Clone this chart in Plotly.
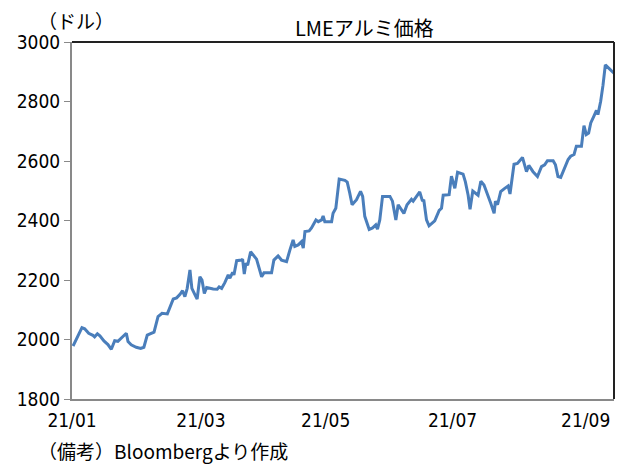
import pandas as pd
import plotly.graph_objects as go

# Days after 2021-01-04 and LME aluminium price (USD)
day_offsets = [0.5, 4.7, 6.0, 7.9, 9.9, 10.7, 12.0, 13.2, 15.1, 17.0, 18.6, 20.2, 21.7, 23.6, 25.7,
               26.5, 28.0, 30.4, 32.5, 34.0, 35.6, 38.8, 40.7, 42.6, 45.1, 47.9, 49.5, 51.1, 52.3,
               53.4, 54.5, 55.8, 56.7, 58.6, 59.2, 60.5, 61.5, 62.6, 63.7, 66.8, 68.7, 69.6, 70.8,
               72.3, 73.9, 74.7, 76.0, 76.6, 77.9, 80.2, 80.7, 81.5, 82.3, 83.1, 84.5, 87.3, 89.7,
               90.8, 94.4, 95.5, 97.5, 99.1, 100.7, 101.5, 103.1, 104.6, 105.4, 107.0, 108.6, 109.4,
               110.2, 112.2, 113.3, 115.4, 116.5, 118.1, 118.8, 119.6, 122.8, 123.5, 124.8, 126.4,
               129.1, 130.2, 131.4, 132.5, 134.6, 136.5, 137.5, 138.5, 140.6, 142.2, 143.7, 144.5,
               145.6, 146.9, 150.4, 151.6, 153.2, 154.3, 157.0, 158.5, 160.6, 161.4, 164.5, 165.8,
               166.4, 167.7, 168.9, 171.6, 173.7, 174.8, 175.6, 178.4, 179.5, 181.1, 182.4, 185.0,
               186.1, 187.4, 188.3, 189.6, 192.1, 193.4, 194.9, 196.5, 198.1, 199.7, 200.3, 201.3,
               202.8, 204.7, 206.3, 207.2, 209.1, 210.7, 212.3, 213.1, 215.0, 216.1, 218.1, 220.2,
               222.1, 223.6, 224.9, 227.6, 228.7, 229.9, 231.2, 233.1, 234.7, 235.9, 237.5, 238.6,
               241.0, 242.2, 243.3, 244.4, 245.4, 246.9, 248.1, 248.8, 250.1, 251.2, 252.3, 253.9,
               255.5, 256.4]
prices = [1978, 2040, 2036, 2021, 2014, 2009, 2019, 2012, 1995, 1983, 1967, 1996, 1994, 2006, 2021,
          1993, 1982, 1974, 1970, 1974, 2015, 2025, 2077, 2088, 2086, 2136, 2140, 2152, 2164,
          2144, 2172, 2234, 2172, 2144, 2136, 2211, 2200, 2155, 2175, 2170, 2169, 2177, 2172,
          2191, 2217, 2206, 2226, 2217, 2265, 2267, 2270, 2220, 2256, 2250, 2295, 2270, 2211,
          2224, 2224, 2267, 2281, 2267, 2262, 2262, 2301, 2335, 2313, 2318, 2329, 2307,
          2363, 2365, 2375, 2402, 2396, 2402, 2415, 2396, 2396, 2424, 2441, 2539,
          2535, 2529, 2492, 2453, 2470, 2498, 2481, 2414, 2370, 2375, 2385, 2371,
          2402, 2481, 2481, 2465, 2402, 2453, 2424, 2453, 2471, 2465, 2496, 2465,
          2470, 2402, 2382, 2399, 2434, 2441, 2485, 2487, 2549, 2508, 2562, 2556,
          2530, 2485, 2438, 2499, 2485, 2532, 2519, 2491, 2458, 2424, 2465, 2453,
          2497, 2508, 2516, 2489, 2589, 2592, 2606, 2612, 2564, 2585, 2564, 2548,
          2581, 2587, 2601, 2601, 2587, 2548, 2545, 2577, 2605, 2616, 2622, 2650,
          2650, 2719, 2689, 2694, 2728, 2751, 2770, 2756, 2801, 2855, 2923, 2912,
          2899, 2895]

tick_dates = ["2021-01-04", "2021-03-06", "2021-05-04", "2021-07-03", "2021-09-04"]
tick_labels = ["21/01", "21/03", "21/05", "21/07", "21/09"]
y_ticks = [1800, 2000, 2200, 2400, 2600, 2800, 3000]

base = pd.Timestamp("2021-01-04")
dates = [base + pd.Timedelta(days=d) for d in day_offsets]

fig = go.Figure()
fig.add_trace(go.Scatter(x=dates, y=prices, mode="lines",
                         line=dict(color="#4a7ebb", width=3), showlegend=False))

num_font = dict(family="Liberation Sans Narrow, DejaVu Sans Condensed, Noto Sans CJK JP",
                size=19, color="black")
title_font = dict(family="Noto Sans CJK JP", size=20, color="black")
jp_font = dict(family="Noto Sans CJK JP", size=19, color="black")

fig.update_layout(
    width=632, height=472,
    margin=dict(l=72, r=18, t=42, b=73),
    paper_bgcolor="white", plot_bgcolor="white",
    xaxis=dict(range=[base, base + pd.Timedelta(days=256.4)],
               tickvals=tick_dates, ticktext=tick_labels,
               showgrid=False, zeroline=False, showline=True,
               linecolor="#898989", linewidth=2, ticks="",
               tickfont=num_font, ticklabelstandoff=3),
    yaxis=dict(range=[1800, 3000], tickvals=y_ticks,
               showgrid=False, zeroline=False, showline=True,
               linecolor="#898989", linewidth=2, ticks="outside",
               tickcolor="#898989", ticklen=6, tickwidth=1,
               tickfont=num_font),
    shapes=[
        dict(type="line", xref="paper", yref="paper", x0=0, x1=1, y0=1, y1=1,
             line=dict(color="#222222", width=2)),
        dict(type="line", xref="paper", yref="paper", x0=1, x1=1, y0=0, y1=1,
             line=dict(color="#222222", width=2)),
    ],
    annotations=[
        dict(text="LMEアルミ価格", xref="paper", yref="paper", x=0.54, y=1.0,
             yshift=15, showarrow=False, xanchor="center", yanchor="middle", font=title_font),
        dict(text="（ドル）", xref="paper", yref="paper", x=0, y=1.0, xshift=-36,
             yshift=22, showarrow=False, xanchor="left", yanchor="middle", font=jp_font),
        dict(text="（備考）Bloombergより作成", xref="paper", yref="paper", x=0, y=0,
             xshift=-36, yshift=-51, showarrow=False, xanchor="left", yanchor="middle",
             font=jp_font),
    ],
)

fig.write_html("out.html")
